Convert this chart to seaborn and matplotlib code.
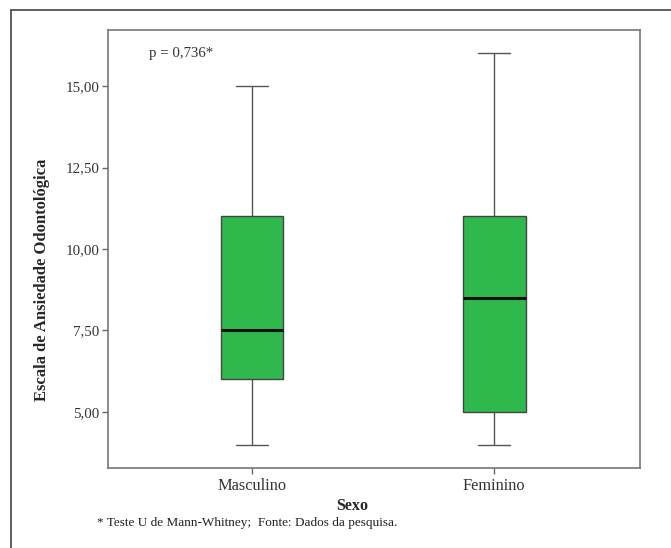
import matplotlib
matplotlib.use("Agg")
import matplotlib.pyplot as plt
import seaborn as sns
import pandas as pd
from matplotlib.lines import Line2D

# Five-number summaries (min, Q1, median, Q3, max)
categories = ["Masculino", "Feminino"]
masculino_vals = [4.0, 6.0, 7.5, 11.0, 15.0]
feminino_vals = [4.0, 5.0, 8.5, 11.0, 16.0]
yticks = [5.0, 7.5, 10.0, 12.5, 15.0]
ytick_labels = ["5,00", "7,50", "10,00", "12,50", "15,00"]

df = pd.DataFrame({
    "Sexo": [categories[0]] * len(masculino_vals) + [categories[1]] * len(feminino_vals),
    "Escala": masculino_vals + feminino_vals,
})

sns.set_style("white")
plt.rcParams["font.family"] = ["Liberation Serif", "DejaVu Serif"]

fig = plt.figure(figsize=(6.71, 5.48), dpi=100)
ax = fig.add_axes([108 / 671, 1 - 468 / 548, (640 - 108) / 671, (468 - 30) / 548])

sns.boxplot(data=df, x="Sexo", y="Escala", order=categories, ax=ax,
            color="#2fb84b", width=0.26, whis=1.5, saturation=1,
            linecolor="#555555", linewidth=1.0,
            medianprops=dict(color="#111111", linewidth=2.2),
            boxprops=dict(edgecolor="#444444"),
            capprops=dict(color="#555555"),
            whiskerprops=dict(color="#555555"))

ax.set_xlim(-0.595, 1.603)
ax.set_ylim(3.28, 16.72)
ax.set_yticks(yticks)
ax.set_yticklabels(ytick_labels)
ax.tick_params(axis="both", direction="out", length=4, width=1, color="#666666",
               labelcolor="#333333", left=True, bottom=True)
ax.tick_params(axis="y", labelsize=10.8, pad=2)
ax.tick_params(axis="x", labelsize=11.8, pad=3)
for s in ax.spines.values():
    s.set_color("#777777")
    s.set_linewidth(1.2)

ax.set_xlabel("Sexo", fontsize=11.6, fontweight="bold")
ax.xaxis.set_label_coords((352 - 108) / 532, -(506 - 468) / 438)
ax.xaxis.label.set_va("center")
ax.set_ylabel("Escala de Ansiedade Odontológica", fontsize=12, fontweight="bold")
ax.yaxis.set_label_coords(-(108 - 42) / 532, (468 - 280) / 438)
ax.yaxis.label.set_va("center")

ax.text(0.077, 0.962, "p = 0,736*", transform=ax.transAxes, fontsize=10.7,
        color="#333333", ha="left", va="top")

fig.text(97 / 671, 1 - 523 / 548, "* Teste U de Mann-Whitney;  Fonte: Dados da pesquisa.",
         fontsize=9.5, color="#222222", ha="left", va="center")

# outer frame (top and left edges visible)
fig.add_artist(Line2D([11 / 671, 11 / 671], [0, 1 - 10 / 548], color="#444444", lw=1.2,
                      transform=fig.transFigure))
fig.add_artist(Line2D([11 / 671, 1], [1 - 10 / 548, 1 - 10 / 548], color="#444444", lw=1.2,
                      transform=fig.transFigure))

fig.savefig("out.png", dpi=100)
